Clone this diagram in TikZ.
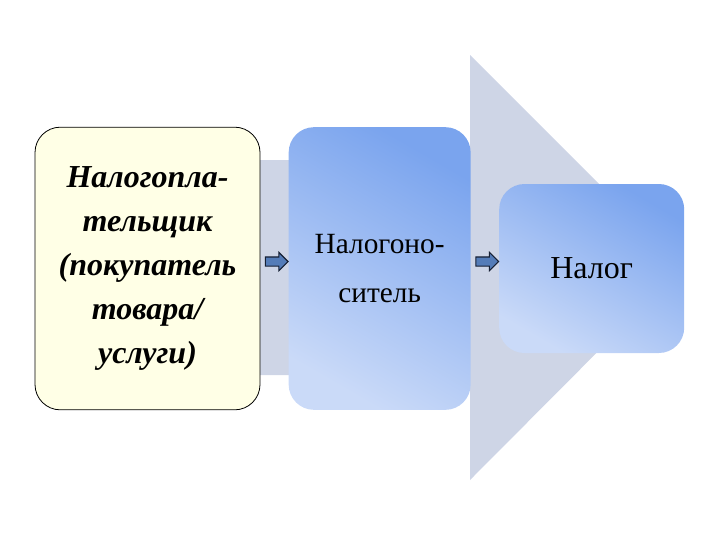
\documentclass[tikz,border=0pt]{standalone}
\usepackage{fontspec}
\setmainfont{Liberation Serif}
\newfontfamily\boxfont{Liberation Serif}
\usetikzlibrary{positioning,shapes.arrows,calc}
\definecolor{ArrowBg}{RGB}{206,213,230}
\definecolor{PayerFill}{RGB}{255,255,230}
\definecolor{BoxDark}{RGB}{122,164,238}
\definecolor{BoxLight}{RGB}{202,218,248}
\definecolor{TipFill}{RGB}{84,124,184}
\definecolor{TipLine}{RGB}{22,32,52}
\def\BoxHeight{212pt}
\def\BoxGap{21pt}

\begin{document}
\begin{tikzpicture}[x=0.75pt,y=-0.75pt,
		payer/.style={draw=black,line width=0.6pt,fill=PayerFill,rounded corners=19pt,
			minimum width=168.75pt,minimum height=\BoxHeight,align=center,
			font=\boxfont\fontsize{24}{33}\selectfont\bfseries\itshape},
		bluebox/.style={rounded corners=19pt,top color=BoxDark,bottom color=BoxLight,
			shading angle=-30,align=center,font=\boxfont\fontsize{22}{37}\selectfont},
		tip/.style={single arrow,draw=TipLine,fill=TipFill,line width=0.8pt,inner sep=3pt,
			single arrow head extend=3.5pt,minimum height=17pt,minimum width=13pt}]
	\useasboundingbox (0,0) rectangle (720,540);
	% big arrow behind the boxes
	\fill[ArrowBg] (40,160) -- (470,160) -- (470,55) -- (682,267)
		-- (470,480) -- (470,375) -- (40,375) -- cycle;
	% 
	\node[payer] (payer) at (147.5,268.5) {Налогопла-\\тельщик\\(покупатель\\товара/\\услуги)};
	\node[bluebox,right=\BoxGap of payer,minimum width=136.5pt,minimum height=\BoxHeight] (bearer) {Налогоно-\\ситель};
	\node[bluebox,right=\BoxGap of bearer,minimum width=138.75pt,minimum height=126.75pt,
		font=\boxfont\fontsize{24}{37}\selectfont] (tax) {Налог};
	% 
	\node[tip] (t1) at ($(payer.east)!0.5!(bearer.west)+(0,-7)$) {};
	\node[tip] (t2) at ($(bearer.east)!0.5!(tax.west)+(0,-7)$) {};
\end{tikzpicture}
\end{document}
